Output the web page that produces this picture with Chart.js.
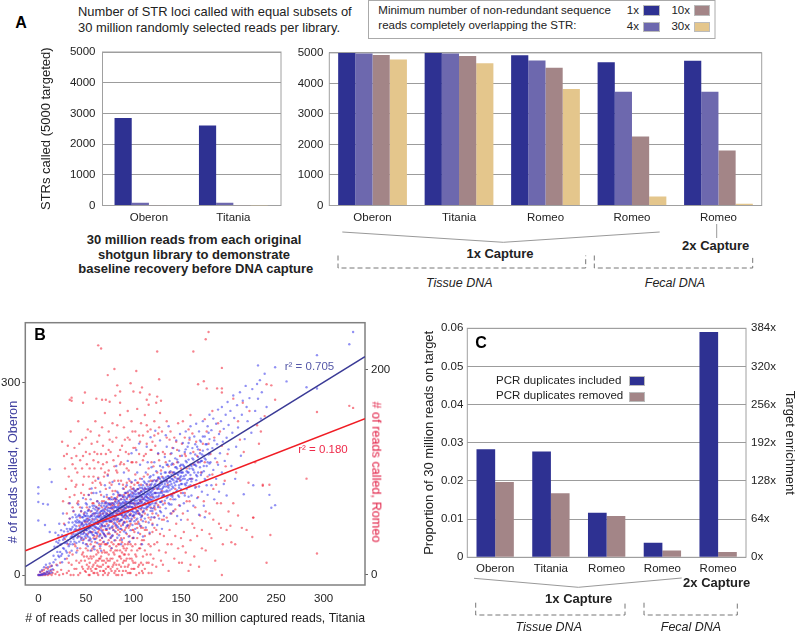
<!DOCTYPE html>
<html><head><meta charset="utf-8">
<style>
html,body{margin:0;padding:0;background:#fff;overflow:hidden;width:796px;height:632px}
body{position:relative;font-family:"Liberation Sans",Arial,sans-serif;color:#222}
canvas{position:absolute}
.t{position:absolute;white-space:nowrap;line-height:1;transform:translate(-50%,-50%);font-size:12.5px}
.l{position:absolute;white-space:nowrap;line-height:1;transform:translateY(-50%)}
.r{position:absolute;white-space:nowrap;line-height:1;transform:translate(-100%,-50%);font-size:11.5px}
.b{font-weight:bold;font-size:13px}
.i{font-style:italic;font-size:12.5px}
.p{font-weight:bold;font-size:16px;color:#000}
.s{position:absolute;box-sizing:border-box;border:1px solid #bbb}
svg{position:absolute;left:0;top:0}
</style>
<script src="https://cdn.jsdelivr.net/npm/chart.js@4"></script>
</head><body>
<svg width="796" height="632" fill="none">
<polyline points="342.3,232 503.3,242.3 659.7,232" stroke="#999"/>
<line x1="716.7" y1="224" x2="716.7" y2="238" stroke="#999"/>
<polyline points="338,255.5 338,268 585.7,268 585.7,255.5" stroke="#777" stroke-dasharray="5 3"/>
<polyline points="594.3,255.5 594.3,268 752.7,268 752.7,255.5" stroke="#777" stroke-dasharray="5 3"/>
<polyline points="474,578.3 578.3,587.3 681.7,578" stroke="#999"/>
<polyline points="475.7,602.7 475.7,615 625,615 625,602.7" stroke="#777" stroke-dasharray="5 3"/>
<polyline points="644,602.7 644,615 737.3,615 737.3,602.7" stroke="#777" stroke-dasharray="5 3"/>
<rect x="368.5" y="0.5" width="346.5" height="38" stroke="#aaa"/>
</svg>
<script>
// Panel A, baseline (Oberon, Titania)
const baselineNames = ['Oberon','Titania'];
const baseline1x = [2848,2609];
const baseline4x = [87,87];
const baseline10x = [6,5];
const baseline30x = [0,2];
// Panel A, captured libraries
const captureNames = ['Oberon','Titania','Romeo','Romeo','Romeo'];
const capture1x = [5000,5000,4924,4696,4739];
const capture4x = [4978,4978,4750,3728,3728];
const capture10x = [4935,4902,4511,2261,1804];
const capture30x = [4783,4663,3815,293,54];
// Panel C
const enrichNames = ['Oberon','Titania','Romeo','Romeo','Romeo'];
const dupIncluded = [0.0283,0.0277,0.0117,0.0038,0.059];
const dupRemoved = [0.0197,0.0168,0.0108,0.0018,0.0014];
// Panel B fit lines, read at the plot edges
const fitX = [-13.7,343.5];
const oberonFit = [13,340.6];
const romeoFit = [23.7,152.5];
// Panel B: by-eye estimate of the cloud, a reduced set of the thousands of dots in the picture
const oberonPoints = [[0,0],[1,0],[2,0],[3,1],[4,0],[5,2],[6,1],[7,3],[8,1],[9,5],[10,2],[11,6],[12,3],[13,8],[14,4],[15,9],[2,5],[4,8],[6,12],[8,16],[10,12],[12,18],[14,14],[16,20],
[0,137],[0,127],[12,165],[14,145],[5,111],[10,110],[0,114],[0,85],[7,78],[12,67],
[16,30],[17,44],[18,24],[19,52],[20,36],[21,62],[22,28],[23,47],[24,70],[25,33],[26,55],[27,41],[28,78],[29,60],[30,35],[30,50],[18,66],[22,80],[26,96],[20,15],[25,20],[28,25],
[31,68],[32,45],[33,88],[34,58],[35,38],[36,75],[37,100],[38,52],[39,84],[40,64],[41,42],[42,110],[43,72],[44,92],[45,55],[46,80],[47,120],[48,66],[49,98],[50,48],[33,112],[36,60],[38,70],[40,90],[42,82],[44,60],[46,105],[48,85],[50,70],[50,112],[32,30],[40,35],
[51,62],[52,84],[52,45],[53,72],[53,101],[54,58],[54,90],[55,67],[55,38],[55,118],[56,78],[56,52],[57,95],[57,63],[58,82],[58,44],[58,128],[59,70],[59,108],[60,56],[60,88],[60,75],[51,110],[53,125],[56,135],[59,40],
[61,66],[61,97],[62,50],[62,80],[62,115],[63,73],[63,91],[64,60],[64,104],[65,85],[65,45],[65,130],[66,70],[66,94],[67,58],[67,112],[67,78],[68,88],[68,66],[69,100],[69,52],[69,122],[70,76],[70,92],[70,62],[70,140],[63,150],[66,38],[61,128],
[71,84],[71,106],[71,60],[72,72],[72,96],[72,125],[73,88],[73,50],[74,110],[74,78],[74,66],[75,100],[75,136],[75,84],[76,58],[76,92],[76,118],[77,74],[77,104],[78,88],[78,62],[78,145],[79,96],[79,70],[79,126],[80,82],[80,110],[80,54],[80,100],[73,155],[77,42],
[81,92],[81,120],[81,68],[82,106],[82,78],[83,88],[83,130],[83,58],[84,100],[84,74],[84,115],[85,94],[85,142],[85,62],[86,84],[86,108],[86,124],[87,72],[87,98],[88,112],[88,86],[88,55],[89,102],[89,135],[89,78],[90,92],[90,118],[90,68],[90,160],[82,170],[87,48],[85,105],
[91,104],[91,82],[91,128],[92,96],[92,114],[92,66],[93,108],[93,140],[93,76],[94,90],[94,122],[95,100],[95,60],[95,150],[96,112],[96,84],[96,132],[97,94],[97,118],[97,70],[98,106],[98,145],[98,88],[99,124],[99,78],[99,100],[100,112],[100,92],[100,135],[100,58],[94,178],[98,190],[96,52],
[101,104],[101,126],[101,84],[102,116],[102,148],[102,72],[103,96],[103,132],[104,110],[104,88],[104,160],[105,122],[105,100],[105,66],[106,140],[106,112],[106,80],[107,94],[107,128],[107,172],[108,118],[108,76],[108,104],[109,136],[109,92],[109,150],[110,110],[110,126],[110,84],[110,60],[103,195],[106,205],[109,48],
[111,120],[111,100],[111,146],[112,130],[112,88],[112,112],[113,160],[113,104],[113,74],[114,126],[114,142],[115,94],[115,116],[115,176],[116,134],[116,82],[116,108],[117,124],[117,152],[117,66],[118,100],[118,140],[118,118],[119,90],[119,130],[119,168],[120,112],[120,146],[120,78],[120,126],[114,200],[118,215],
[121,134],[121,104],[121,156],[122,120],[122,90],[122,176],[123,142],[123,112],[124,128],[124,96],[124,162],[125,148],[125,118],[125,78],[126,136],[126,190],[126,106],[127,124],[127,152],[127,88],[128,140],[128,170],[128,114],[129,130],[129,98],[129,158],[130,122],[130,146],[130,72],[123,225],[128,210],
[131,136],[131,168],[131,110],[132,150],[132,124],[132,92],[133,142],[133,184],[134,130],[134,160],[134,104],[135,148],[135,120],[135,200],[136,172],[136,138],[136,84],[137,154],[137,112],[138,132],[138,178],[138,146],[139,96],[139,162],[139,124],[140,142],[140,190],[140,110],[140,156],[134,218],[137,232],
[141,150],[141,122],[141,174],[142,136],[142,198],[142,100],[143,160],[143,144],[144,118],[144,182],[144,152],[145,130],[145,168],[145,210],[146,146],[146,92],[146,158],[147,176],[147,124],[148,140],[148,194],[148,160],[149,108],[149,152],[149,220],[150,134],[150,172],[150,148],[150,86],
[151,160],[151,186],[152,128],[152,150],[152,206],[153,170],[153,112],[154,142],[154,192],[155,156],[155,224],[155,178],[156,134],[156,162],[157,100],[157,200],[157,148],[158,180],[158,122],[159,166],[159,214],[160,140],[160,190],[160,156],[160,232],
[161,170],[161,124],[162,198],[162,150],[163,180],[163,108],[164,160],[164,216],[165,136],[165,188],[165,172],[166,236],[166,148],[167,200],[167,120],[168,176],[168,160],[169,224],[169,94],[170,190],[170,144],[170,168],
[171,208],[171,156],[172,178],[172,130],[173,194],[173,240],[174,162],[174,108],[175,216],[175,90],[175,182],[176,148],[177,204],[177,170],[178,232],[178,125],[179,188],[180,156],[180,212],[180,250],
[181,176],[182,226],[182,140],[183,198],[184,244],[184,164],[185,210],[185,118],[186,182],[187,236],[187,150],[188,204],[189,258],[189,172],[190,220],[190,130],
[191,190],[192,240],[193,160],[193,262],[194,208],[195,228],[195,142],[196,178],[197,250],[198,214],[198,124],[199,270],[200,196],[200,234],
[202,256],[203,170],[204,222],[205,280],[206,245],[207,150],[208,200],[209,265],[210,230],[212,285],[213,186],[214,250],[215,272],[216,126],[217,212],[218,295],[219,262],[220,240],[222,276],[224,222],[225,290],[226,140],[228,256],[230,298],[231,275],[233,304],[234,244],[235,285],[238,314],[240,262],[243,125],[245,105],[249,109],[249,324],[231,327],
[261,302],[282,293],[293,291],[293,343],[327,360],[331,379],
[20,44],[21,30],[22,54],[23,36],[24,48],[25,62],[26,42],[27,68],[28,50],[29,38],[30,72],[31,54],[32,82],[33,48],[34,70],[35,60],[36,90],[37,56],[38,78],[39,62],[40,76],[40,50],[21,50],[24,30],[27,58],[30,62],[33,72],[36,48],[39,94],
[41,58],[41,86],[42,66],[43,52],[43,94],[44,74],[45,64],[45,100],[46,58],[46,90],[47,76],[47,50],[48,94],[48,72],[49,60],[49,84],[50,80],[50,92],[51,70],[51,88],[52,60],[52,100],[53,86],[53,54],[54,74],[54,106],[55,82],[55,56],[56,92],[56,66],[57,78],[57,108],[58,62],[58,96],[59,86],[59,56],[60,102],[60,66],
[61,82],[61,74],[62,92],[62,64],[63,84],[63,104],[64,72],[64,90],[65,98],[65,62],[66,80],[66,108],[67,90],[67,68],[68,76],[68,102],[69,84],[69,64],[70,104],[70,84],[71,94],[71,72],[72,84],[72,108],[73,76],[73,100],[74,92],[74,120],[75,72],[75,110],[76,84],[76,104],[77,94],[77,60],[78,106],[78,76],[79,86],[79,112],[80,92],[80,120],
[81,80],[81,106],[82,92],[82,118],[83,104],[83,76],[84,88],[84,128],[85,84],[85,116],[86,96],[86,72],[87,110],[87,86],[88,100],[88,124],[89,90],[89,114],[90,106],[90,82],[91,116],[91,94],[92,104],[92,128],[93,92],[93,120],[94,106],[94,78],[95,114],[95,88],[96,124],[96,100],[97,106],[97,84],[98,116],[98,130],[99,92],[99,112],[100,122],[100,104],
[101,116],[101,94],[102,130],[102,106],[103,120],[103,86],[104,122],[104,100],[105,134],[105,112],[106,96],[106,126],[107,116],[107,108],[108,130],[108,90],[109,122],[109,106],[110,140],[110,98],[111,132],[111,110],[112,122],[112,144],[113,116],[113,134],[114,106],[114,116],[115,128],[115,106],[116,146],[116,120],[117,110],[117,136],[118,128],[118,154],[119,116],[119,104],[120,136],[120,100],
[121,122],[122,140],[122,108],[123,128],[124,116],[124,146],[125,134],[126,122],[126,152],[127,138],[128,100],[128,128],[129,146],[129,114],[130,134],[131,124],[131,152],[132,138],[133,116],[133,160],[134,146],[135,132],[135,172],[136,122],[136,154],[137,136],[138,160],[138,110],[139,146],[140,126],[140,172],[141,138],[142,160],[142,118],[143,128],[144,168],[145,146],[146,132],[146,180],[147,156],[148,122],[149,170],[150,160],
[151,142],[152,172],[153,154],[154,124],[155,140],[155,196],[156,176],[157,160],[158,138],[158,206],[159,150],[160,172],[161,146],[162,182],[163,164],[164,140],[165,204],[166,170],[167,154],[168,196],[169,138],[170,210],[171,178],[172,160],[173,216],[174,186],[175,150],[176,204],[177,140],[178,176],[179,222],[180,190],
[34,52],[35,72],[36,82],[37,64],[38,60],[39,72],[40,82],[41,70],[42,60],[42,92],[43,84],[44,82],[44,68],[45,78],[46,70],[46,82],[47,90],[47,64],[48,78],[48,56],[49,72],[49,92],[50,64],[50,86],[51,78],[51,96],[52,74],[52,92],[53,66],[53,80],[54,86],[54,68],[55,92],[55,74],[56,84],[56,100],[57,72],[57,88],[58,76],[58,104],[59,78],[59,92],[60,82],[60,96],[61,90],[61,106],[62,72],[62,100],[63,80],[63,96],[64,82],[64,112],[65,76],[65,92],[66,88],[66,100],[67,84],[67,100],[68,96],[68,82],[69,92],[69,108],[70,98],[70,112],[71,88],[71,114],[72,90],[72,102],[73,94],[73,112],[74,86],[74,104],[75,92],[75,120],[76,98],[76,110],[77,84],[77,112],[78,96],[78,118],[79,104],[79,92],[80,106],[80,88],[81,98],[81,114],[82,100],[82,86],[83,96],[83,112],[84,106],[84,94],[85,100],[85,124],[86,104],[86,112],[87,94],[87,118],[88,106],[88,94],[89,108],[89,122],[90,98],[90,112],[91,100],[91,122],[92,110],[92,88],[93,114],[93,100],[94,98],[94,130],[95,106],[95,124],[96,108],[96,94],[97,112],[97,126],[98,100],[98,122],[99,118],[99,106],[100,98],[100,128],[101,110],[101,132],[102,122],[102,98],[103,112],[103,126],[104,116],[104,134],[105,106],[105,128],[106,118],[106,104],[107,122],[107,136],[108,124],[108,112],[109,114],[109,130],[110,118],[110,134],[111,126],[111,104],[112,136],[112,118],[113,124],[113,110],[114,134],[114,122],[115,120],[115,138],[116,126],[116,112],[117,130],[117,118],[118,136],[118,110],[119,124],[119,142],[120,132],[120,118],[122,128],[122,148],[124,136],[124,122],[126,140],[126,128],[128,134],[128,150],[130,128],[130,142],[132,146],[132,130],[134,138],[134,152],[136,144],[136,130],[138,140],[138,152],[140,134],[140,150],[142,148],[142,128],[144,158],[144,140],[146,150],[146,166],[148,150],[148,136],[150,154],[150,142],[152,160],[154,150],[154,168],[156,144],[158,160],[160,150],[162,166],[164,172],[166,156],[168,184],[170,176],[172,188],[174,170],[176,180],[178,196],[180,174]];
const romeoPoints = [[0,0],[1,0],[2,0],[3,0],[4,1],[5,0],[6,2],[7,0],[8,1],[9,3],[10,0],[11,2],[12,1],[13,4],[14,0],[15,2],[16,5],[2,3],[4,4],[6,5],[8,7],[10,6],[12,8],[14,9],[18,1],[20,3],[22,0],[24,5],[26,1],[19,10],[23,12],
[30,2],[32,12],[34,0],[36,20],[38,6],[40,14],[42,0],[44,26],[46,8],[48,18],[50,3],[31,30],[35,40],[39,28],[43,48],[47,34],[49,52],[33,55],[37,62],[41,70],[45,80],[50,44],[28,35],[27,50],
[51,10],[52,24],[53,0],[54,34],[55,6],[56,16],[57,42],[58,2],[59,28],[60,12],[61,20],[62,38],[63,0],[64,8],[65,26],[66,46],[67,14],[68,32],[69,4],[70,22],[52,55],[55,62],[58,70],[61,50],[64,58],[67,66],[70,48],[53,78],[57,90],[60,85],[63,95],[66,78],[69,72],[51,18],[56,4],[59,38],[62,9],[65,16],[68,0],[54,12],
[71,12],[72,30],[73,0],[74,20],[75,40],[76,6],[77,26],[78,16],[79,50],[80,2],[81,34],[82,10],[83,24],[84,44],[85,4],[86,18],[87,36],[88,0],[89,28],[90,14],[72,60],[75,70],[78,82],[81,56],[84,68],[87,92],[90,52],[73,98],[77,88],[80,74],[83,100],[86,78],[89,62],[71,44],[74,8],[76,54],[79,22],[82,46],[85,30],[88,58],
[91,8],[92,24],[93,40],[94,2],[95,32],[96,16],[97,50],[98,6],[99,28],[100,12],[101,42],[102,20],[103,0],[104,36],[105,60],[106,10],[107,26],[108,46],[109,4],[110,18],[92,66],[95,78],[98,70],[101,88],[104,76],[107,94],[110,62],[93,104],[96,92],[99,110],[102,98],[105,84],[108,72],[91,56],[94,48],[97,86],[100,58],
[111,34],[112,6],[113,52],[114,20],[115,70],[116,12],[117,40],[118,28],[119,2],[120,60],[121,16],[122,46],[123,80],[124,8],[125,32],[126,68],[127,24],[128,90],[129,14],[130,54],[112,84],[115,98],[118,76],[121,106],[124,92],[127,112],[130,82],[113,118],[116,104],[119,122],[122,66],[125,100],
[131,10],[132,38],[133,70],[134,22],[135,56],[136,88],[137,4],[138,44],[139,74],[140,30],[141,100],[142,62],[143,16],[144,84],[145,50],[146,110],[147,26],[148,68],[149,92],[150,36],[133,118],[137,106],[141,124],[145,130],[149,116],[135,134],[139,140],[143,96],
[151,12],[152,60],[153,42],[154,80],[155,22],[156,104],[157,54],[158,4],[159,72],[160,34],[161,94],[162,50],[163,120],[164,18],[165,66],[166,86],[167,38],[168,110],[169,8],[170,58],[154,134],[158,142],[162,138],[166,130],[170,122],[152,150],[160,156],
[172,44],[174,72],[176,24],[178,96],[180,60],[182,36],[184,84],[186,14],[188,110],[190,50],[192,70],[194,30],[196,92],[198,44],[200,62],[173,128],[177,140],[181,118],[185,134],[189,148],[193,126],[197,106],[175,152],[183,160],[191,140],[199,118],[193,0],
[202,48],[203,32],[207,30],[205,70],[208,100],[210,58],[212,132],[214,46],[216,120],[219,44],[221,90],[225,37],[226,56],[228,110],[230,146],[232,128],[234,140],[236,88],[243,88],[244,39],[240,12],[245,185],[240,186],[249,171],[238,155],[222,160],[215,168],[205,172],[210,150],
[25,130],[28,104],[30,118],[32,96],[34,140],[36,108],[38,124],[40,88],[42,150],[44,112],[46,132],[48,96],[50,120],[52,142],[54,104],[56,128],[58,112],[60,150],[62,118],[64,136],[66,104],[68,126],[70,158],[72,110],[74,140],[76,120],[78,148],[80,106],[82,134],[84,116],[86,156],[88,126],[90,144],[92,120],[94,160],[96,132],[98,150],[100,124],[102,140],[104,162],[106,118],[108,148],[110,136],[112,156],[114,128],[116,166],[118,142],[120,130],[122,150],[124,168],[126,138],[128,158],
[26,72],[29,84],[32,70],[35,92],[38,78],[41,100],[44,66],[47,88],[50,74],[53,96],[56,80],[59,104],[62,72],[65,90],[68,108],[71,84],[74,102],[77,68],[80,92],[83,76],[86,108],[89,88],[92,80],[95,102],[98,90],
[63,224],[66,221],[125,218],[163,218],[80,201],[103,199],[73,195],[127,191],[97,187],[83,185],[109,183],[86,179],[100,179],[107,178],[49,178],[117,176],[125,174],[35,173],[33,171],[35,170],[61,172],[67,171],[71,171],[75,169],[47,168],[81,175],[86,168],[114,171],[129,170],[179,237],[176,230],[193,202],[174,189],[168,186],[177,182],[188,182],[193,182],[193,178],[327,165],[331,163],[293,159],[282,94],[293,21],[236,87],[226,56],
[30,16],[32,4],[33,22],[35,10],[37,0],[38,30],[40,6],[41,24],[43,12],[44,2],[45,36],[46,20],[47,6],[48,42],[49,14],[50,26],[52,6],[53,16],[54,0],[55,30],[56,24],[57,8],[58,18],[59,2],[60,32],
[61,6],[62,24],[63,14],[64,30],[65,4],[66,18],[67,36],[68,10],[69,24],[70,2],[71,30],[72,16],[73,8],[74,34],[75,14],[76,24],[77,4],[78,38],[79,10],[80,20],[81,4],[82,28],[83,14],[84,0],[85,18],[86,34],[87,8],[88,22],[89,12],[90,36],[63,42],[66,30],[69,40],[72,44],[75,52],[78,46],[81,42],[84,54],[87,48],[90,26],
[91,20],[92,4],[93,16],[94,30],[95,10],[96,38],[97,2],[98,24],[99,14],[100,44],[101,6],[102,30],[103,18],[104,50],[105,8],[106,26],[107,40],[108,12],[109,34],[110,2],[112,24],[114,44],[116,30],[118,54],[120,10],[122,30],[92,46],[96,58],[100,36],[104,62],[108,54],[112,60],[116,72],[120,42],
[30,60],[33,76],[36,66],[39,86],[42,72],[45,62],[48,78],[51,66],[54,84],[57,70],[60,92],[63,64],[66,88],[69,96],[72,76],[75,90],[78,70],[81,82],[84,92],[87,64],[90,78],[93,90],[96,70],[99,80],[102,68],[105,90],[108,82],[111,96],[114,76],[117,88],[120,92],[123,64],[126,84],[129,102],[132,78],[135,92],[138,100],[141,78],[144,64],[147,94],[150,80],
[27,116],[31,126],[35,114],[39,104],[43,128],[47,116],[51,108],[55,140],[59,120],[63,110],[67,144],[71,118],[75,132],[79,112],[83,146],[87,110],[91,132],[95,118],[99,140],[103,110],[107,130],[111,116],[115,140],[119,110],[123,126],[127,144],[131,120],[135,150],[139,118],[143,134],[147,148],[151,128],[155,116],[159,132],[163,108],[167,116],[171,100],[175,110],[179,128],[183,98],[187,88],
[132,54],[136,30],[140,60],[144,38],[148,12],[152,28],[156,72],[160,10],[164,46],[168,76],[172,26],[176,62],[180,40],[184,54],[188,70],[192,46],
[40,44],[42,38],[44,56],[46,50],[48,60],[50,36],[51,52],[52,40],[53,64],[54,50],[55,42],[56,58],[57,54],[58,36],[59,60],[60,46],[61,66],[61,36],[62,54],[63,50],[64,44],[64,68],[65,40],[65,60],[66,54],[67,48],[67,72],[68,60],[68,44],[69,54],[70,64],[70,38],[71,56],[71,70],[72,50],[73,66],[73,40],[74,58],[74,74],[75,46],[75,60],[76,66],[76,36],[77,52],[77,76],[78,58],[78,64],[79,44],[79,68],[80,54],[80,62],[81,72],[81,48],[82,60],[82,74],[83,52],[83,40],[84,62],[84,78],[85,50],[85,70],[86,42],[86,60],[87,74],[87,54],[88,66],[88,44],[89,76],[89,50],[90,64],[90,84],[91,44],[91,70],[92,58],[92,86],[93,52],[93,74],[94,62],[94,80],[95,46],[95,66],[96,76],[96,48],[97,60],[97,72],[98,54],[98,84],[99,66],[99,44],[100,74],[100,84],[101,56],[101,70],[102,50],[102,82],[103,64],[103,76],[104,46],[104,90],[105,70],[105,52],[106,80],[106,60],[107,72],[107,48],[108,64],[108,88],[109,58],[109,76],[110,74],[110,46],[112,70],[112,44],[114,64],[114,88],[116,56],[116,84],[118,66],[118,92],[120,76],[120,50],[122,84],[122,56],[124,70],[124,44],[126,58],[126,94],[128,66],[128,40],[130,72],[130,96],
[45,14],[47,22],[49,4],[51,30],[53,8],[55,18],[57,26],[58,10],[60,6],[61,14],[62,2],[63,22],[64,16],[65,34],[66,8],[67,22],[68,4],[69,14],[70,30],[71,6],[72,22],[73,14],[74,2],[75,28],[76,16],[77,32],[78,8],[79,30],[80,12],[81,24],[82,0],[83,6],[84,30],[85,10],[86,24],[87,16],[88,32],[89,4],[90,20],[91,30],[92,14],[93,26],[94,8],[95,20],[96,2],[97,30],[98,16],[99,36],[100,6],[102,12],[104,24],[106,2],[108,30],[110,10],[112,38],[114,12],[116,2],[118,20],
[40,116],[46,104],[50,134],[54,118],[58,96],[62,130],[66,118],[70,100],[74,122],[78,130],[82,102],[86,122],[90,108],[94,134],[98,110],[102,124],[106,136],[110,112],[114,146],[118,122],[122,136],[126,118],[130,140],[134,110],[138,132],[142,108],[146,122],[150,104],[154,118],[158,106]];

const NAVY='#2E3192', SLATE='#6D68AE', MAUVE='#A38587', TAN='#E4C68C';
const FONT='"Liberation Sans", Arial, sans-serif';
const TXT='#222';
Chart.defaults.font.family=FONT;
Chart.defaults.font.size=11.5;
Chart.defaults.color=TXT;

const framePlugin={id:'frame',beforeDatasetsDraw(c,a,o){
  const r=c.chartArea,g=c.ctx;g.save();g.strokeStyle=o.color||'#a0a0a0';g.lineWidth=o.width||1;
  g.strokeRect(r.left,r.top,r.right-r.left,r.bottom-r.top);g.restore();}};

function make(box,plot,config){
  const cv=document.createElement('canvas');
  const w=box.right-box.left,h=box.bottom-box.top;
  cv.width=w;cv.height=h;cv.style.left=box.left+'px';cv.style.top=box.top+'px';cv.style.width=w+'px';cv.style.height=h+'px';
  document.body.appendChild(cv);
  const rightAxis=config.rightWidth||0;
  config.options.responsive=false;config.options.animation=false;config.options.devicePixelRatio=1;
  config.options.layout={autoPadding:false,padding:{top:plot.t-box.top,right:rightAxis?0:box.right-plot.r,left:0,bottom:0}};
  config.options.plugins=Object.assign({legend:{display:false},tooltip:{enabled:false},title:{display:false}},config.options.plugins||{});
  const sc=config.options.scales;
  for(const k in sc){const s=sc[k];
    if(s.position==='left')s.afterFit=a=>{a.width=plot.l-box.left};
    else if(s.position==='right')s.afterFit=a=>{a.width=rightAxis};
    else s.afterFit=a=>{a.height=box.bottom-plot.b};
  }
  config.plugins=[framePlugin];
  delete config.rightWidth;
  const chart=new Chart(cv,config);
  // settle the plot top on the wanted row
  for(let i=0;i<3;i++){
    const diff=chart.chartArea.top+box.top-plot.t;
    if(Math.abs(diff)<0.05)break;
    chart.options.layout.padding.top=Math.max(0,chart.options.layout.padding.top-diff);
    chart.update();
  }
  return chart;
}
const plain=v=>String(v);
const barY=(title,pad)=>({position:'left',min:0,max:5000,
  grid:{color:'#9c9c9c',drawTicks:false},border:{display:false},
  ticks:{stepSize:1000,padding:pad,callback:plain},title:title?{display:true,text:title,font:{size:13},padding:0}:{display:false}});

// A left
const pairs=a=>a.map((v,i)=>({x:i,y:v}));
make({left:39,top:36,right:290,bottom:225},{l:102.5,t:52,r:281,b:205.5},{type:'bar',
 data:{datasets:[
  {label:'1x',data:pairs(baseline1x),backgroundColor:NAVY},
  {label:'4x',data:pairs(baseline4x),backgroundColor:SLATE},
  {label:'10x',data:pairs(baseline10x),backgroundColor:MAUVE},
  {label:'30x',data:pairs(baseline30x),backgroundColor:TAN}]},
 options:{datasets:{bar:{categoryPercentage:0.815,barPercentage:1}},
  scales:{x:{position:'bottom',type:'linear',offset:false,min:-0.55,max:1.5645,grid:{display:false,drawTicks:false},border:{display:false},
    ticks:{stepSize:1,includeBounds:false,padding:5,maxRotation:0,callback:v=>baselineNames[v]}},
   y:barY('STRs called (5000 targeted)',7)}}});

// A right
make({left:296,top:40,right:770,bottom:225},{l:329.3,t:52,r:761.7,b:205.5},{type:'bar',
 data:{labels:captureNames,datasets:[
  {label:'1x',data:capture1x,backgroundColor:NAVY},
  {label:'4x',data:capture4x,backgroundColor:SLATE},
  {label:'10x',data:capture10x,backgroundColor:MAUVE},
  {label:'30x',data:capture30x,backgroundColor:TAN}]},
 options:{datasets:{bar:{categoryPercentage:0.795,barPercentage:1}},
  scales:{x:{position:'bottom',grid:{display:false,drawTicks:false},border:{display:false},ticks:{padding:5,maxRotation:0,autoSkip:false}},
   y:barY('',6)}}});

// B
make({left:0,top:310,right:396,bottom:626},{l:25.3,t:322.7,r:365,b:585},{type:'scatter',rightWidth:31,
 data:{datasets:[
  {label:'Oberon fit',data:fitX.map((x,i)=>({x,y:oberonFit[i]})),yAxisID:'yL',showLine:true,borderColor:'#3A3A96',borderWidth:1.6,pointRadius:0,order:1},
  {label:'Romeo fit',data:fitX.map((x,i)=>({x,y:romeoFit[i]})),yAxisID:'yR',showLine:true,borderColor:'#F01C24',borderWidth:1.6,pointRadius:0,order:0},
  {label:'Oberon',data:oberonPoints.map(p=>({x:p[0],y:p[1]})),yAxisID:'yL',backgroundColor:'rgba(55,55,235,0.55)',pointRadius:1.2,borderWidth:0,order:2},
  {label:'Romeo',data:romeoPoints.map(p=>({x:p[0],y:p[1]})),yAxisID:'yR',backgroundColor:'rgba(240,30,50,0.55)',pointRadius:1.2,borderWidth:0,order:3}]},
 options:{plugins:{frame:{color:'#808080',width:1.5}},
  scales:{x:{position:'bottom',type:'linear',min:-13.7,max:343.5,grid:{display:false,drawTicks:false},border:{display:false},
    ticks:{stepSize:50,includeBounds:false,padding:7,maxRotation:0},
    title:{display:true,text:'# of reads called per locus in 30 million captured reads, Titania',font:{size:13},padding:0}},
   yL:{position:'left',min:-15.6,max:393.6,grid:{drawOnChartArea:false,tickLength:3,tickColor:'#666'},border:{display:false},ticks:{stepSize:300,includeBounds:false,padding:2}},
   yR:{position:'right',min:-9.76,max:246.1,grid:{drawOnChartArea:false,tickLength:3,tickColor:'#666'},border:{display:false},ticks:{stepSize:200,includeBounds:false,padding:3}}}}});

// C
make({left:422,top:316,right:797,bottom:578},{l:467.3,t:328.3,r:746,b:557.3},{type:'bar',rightWidth:51,
 data:{labels:enrichNames,datasets:[
  {label:'PCR duplicates included',data:dupIncluded,backgroundColor:NAVY,yAxisID:'y'},
  {label:'PCR duplicates removed',data:dupRemoved,backgroundColor:MAUVE,yAxisID:'y'}]},
 options:{datasets:{bar:{categoryPercentage:0.67,barPercentage:1}},
  scales:{x:{position:'bottom',grid:{display:false,drawTicks:false},border:{display:false},ticks:{padding:5,maxRotation:0,autoSkip:false}},
   y:{position:'left',min:0,max:0.06,grid:{color:'#9c9c9c',drawTicks:false},border:{display:false},
     ticks:{stepSize:0.01,padding:4,callback:v=>v===0?'0':v.toFixed(2)},
     title:{display:true,text:'Proportion of 30 million reads on target',font:{size:13},padding:0}},
   yE:{position:'right',min:0,max:384,grid:{display:false,drawTicks:false},border:{display:false},
     ticks:{stepSize:64,padding:5,callback:v=>v+'x'},
     title:{display:true,text:'Target enrichment',font:{size:13},padding:0}}}}});

function put(cls,text,x,y,extra){const d=document.createElement('div');d.className=cls;d.textContent=text;
  d.style.left=x+'px';d.style.top=y+'px';if(extra)Object.assign(d.style,extra);document.body.appendChild(d);}
function swatch(color,x,y,w,h){const d=document.createElement('div');d.className='s';
  Object.assign(d.style,{left:x+'px',top:y+'px',width:w+'px',height:h+'px',background:color});document.body.appendChild(d);}

put('t p','A',21,23);
put('l','Number of STR loci called with equal subsets of',78,12.3,{fontSize:'12.9px'});
put('l','30 million randomly selected reads per library.',78,28,{fontSize:'12.9px'});
put('l','Minimum number of non-redundant sequence',378.3,11.3,{fontSize:'11.5px'});
put('l','reads completely overlapping the STR:',378.3,25.7,{fontSize:'11.5px'});
put('r','1x',639,10.5);put('r','10x',690,10.5);put('r','4x',639,27);put('r','30x',690,27);
swatch(NAVY,643.3,5,16.4,10.7);swatch(MAUVE,694,5,16,10.7);swatch(SLATE,643.3,22,16.4,10.3);swatch(TAN,694,22,16,10.3);
put('t b','30 million reads from each original',194,239.3);
put('t b','shotgun library to demonstrate',194,253.7);
put('t b','baseline recovery before DNA capture',195.8,268);
put('t b','1x Capture',500,253);put('t b','2x Capture',715.7,244.7);
put('t i','Tissue DNA',459.3,283);put('t i','Fecal DNA',675,283);
put('t p','B',40,335.3);
put('t','# of reads called, Oberon',13,472,{transform:'translate(-50%,-50%) rotate(-90deg)',color:'#4040A0',fontSize:'12.7px'});
put('t','# of reads called, Romeo',375.5,472,{transform:'translate(-50%,-50%) rotate(90deg)',color:'#E0183F',fontSize:'12.7px'});
put('t','r² = 0.705',309.5,366.7,{color:'#5558A8',fontSize:'11.5px'});
put('t','r² = 0.180',323,450,{color:'#EE2A4A',fontSize:'11.5px'});
put('t p','C',481,342.7);
put('l','PCR duplicates included',496,380.7,{fontSize:'11.5px'});
put('l','PCR duplicates removed',496,396.3,{fontSize:'11.5px'});
swatch(NAVY,629,375.7,15.7,10.3);swatch(MAUVE,629,391.7,15.7,10);
put('t b','2x Capture',716.7,582.3);put('t b','1x Capture',578.7,598.3);
put('t i','Tissue DNA',548.7,627);put('t i','Fecal DNA',691,627);
</script>
</body></html>
